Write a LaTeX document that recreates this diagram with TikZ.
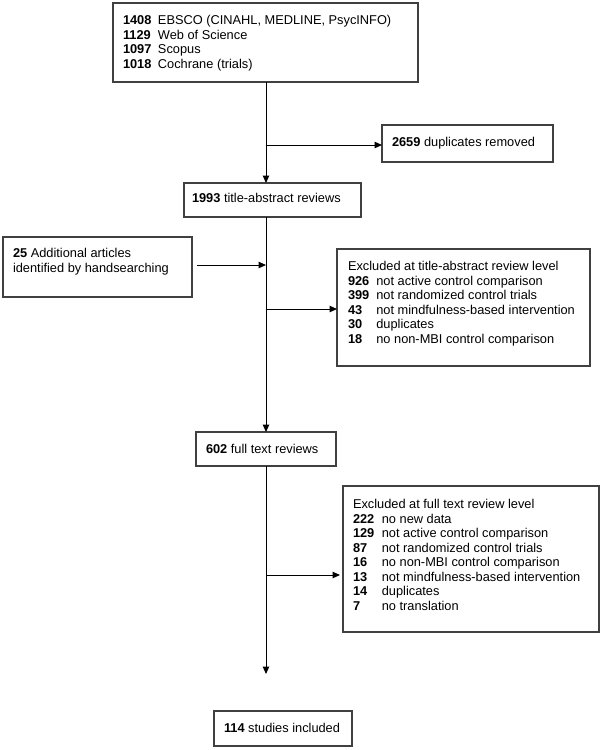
\documentclass[tikz,border=0pt]{standalone}
\usepackage{fontspec}
\setmainfont{Liberation Sans}
\usetikzlibrary{arrows.meta}
\begin{document}
\begin{tikzpicture}[x=1pt,y=-1pt,
  box/.style={draw=black!75, line width=1.3pt, inner sep=0pt, outer sep=0pt},
  tx/.style={anchor=base west, inner sep=0pt, outer sep=0pt, font=\fontsize{12.8}{14.5}\selectfont},
  conn/.style={draw=black, line width=1pt},
  arr/.style={conn, -{Triangle[length=7.5pt,width=6.5pt]}}]
\useasboundingbox (0,0) rectangle (602,750);
% boxes
\node[box, minimum width=305pt, minimum height=79pt] (top) at (265.5,42.5) {};
\node[box, minimum width=171pt, minimum height=37pt] (dup) at (467.5,143.5) {};
\node[box, minimum width=177pt, minimum height=34pt] (tabs) at (272.5,200) {};
\node[box, minimum width=189pt, minimum height=60pt] (hand) at (97.5,267) {};
\node[box, minimum width=253pt, minimum height=117pt] (ex1) at (463.5,307.5) {};
\node[box, minimum width=140pt, minimum height=34pt] (full) at (266,449) {};
\node[box, minimum width=256pt, minimum height=146pt] (ex2) at (471,559) {};
\node[box, minimum width=138pt, minimum height=35pt] (incl) at (283,728.5) {};
% texts
\node[tx] (toptx) at (123,24.5) {\begin{tabular}[t]{@{}l@{\hspace{6.5pt}}l@{}}
\textbf{1408} & EBSCO (CINAHL, MEDLINE, PsycINFO)\\
\textbf{1129} & Web of Science\\
\textbf{1097} & Scopus\\
\textbf{1018} & Cochrane (trials)
\end{tabular}};
\node[tx] (duptx) at (392,146.5) {\textbf{2659} duplicates removed};
\node[tx] (tabstx) at (192,202.5) {\textbf{1993} title-abstract reviews};
\node[tx] (handtx) at (13,257.5) {\begin{tabular}[t]{@{}l@{}}
\textbf{25} Additional articles\\
identified by handsearching
\end{tabular}};
\node[tx] (ex1tx) at (348,270.5) {\begin{tabular}[t]{@{}l@{\hspace{7pt}}l@{}}
\multicolumn{2}{@{}l@{}}{Excluded at title-abstract review level}\\
\textbf{926} & not active control comparison\\
\textbf{399} & not randomized control trials\\
\textbf{43} & not mindfulness-based intervention\\
\textbf{30} & duplicates\\
\textbf{18} & no non-MBI control comparison
\end{tabular}};
\node[tx] (fulltx) at (206,453.5) {\textbf{602} full text reviews};
\node[tx] (ex2tx) at (353,508.5) {\begin{tabular}[t]{@{}l@{\hspace{7.5pt}}l@{}}
\multicolumn{2}{@{}l@{}}{Excluded at full text review level}\\
\textbf{222} & no new data\\
\textbf{129} & not active control comparison\\
\textbf{87} & not randomized control trials\\
\textbf{16} & no non-MBI control comparison\\
\textbf{13} & not mindfulness-based intervention\\
\textbf{14} & duplicates\\
\textbf{7} & no translation
\end{tabular}};
\node[tx] (incltx) at (224,732.5) {\textbf{114} studies included};
% connectors
\coordinate (b1) at (266,145);
\coordinate (b2) at (266,309);
\coordinate (b3) at (266,575);
\coordinate (e3) at (340,575);
\coordinate (hs) at (197,265);
\coordinate (fin) at (266,674);
\draw[arr] (top.south -| full.north) -- (tabs.north -| full.north);
\draw[arr] (b1) -- (b1 -| dup.west);
\draw[arr] (hs) -- (hs -| full.north);
\draw[arr] (tabs.south -| full.north) -- (full.north);
\draw[arr] (b2) -- (b2 -| ex1.west);
\draw[arr] (full.south) -- (fin);
\draw[arr] (b3) -- (e3);
\end{tikzpicture}
\end{document}
